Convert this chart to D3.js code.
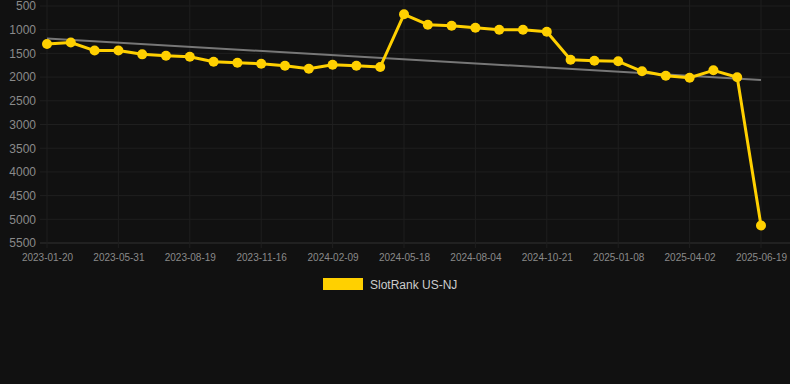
<!DOCTYPE html>
<html>
<head>
<meta charset="utf-8">
<script src="https://cdn.jsdelivr.net/npm/d3@7"></script>
<style>
 body { margin: 0; background: #111111; }
 svg text { font-family: "Liberation Sans", Arial, sans-serif; }
</style>
</head>
<body>
<div id="chart"></div>
<script>
// dates on the x axis (only every third one is labelled)
var dates = ["2023-01-20", "2023-03-05", "2023-04-18", "2023-05-31", "2023-06-27", "2023-07-23",
 "2023-08-19", "2023-09-18", "2023-10-17", "2023-11-16", "2023-12-14", "2024-01-11",
 "2024-02-09", "2024-03-12", "2024-04-14", "2024-05-18", "2024-06-13", "2024-07-09",
 "2024-08-04", "2024-08-30", "2024-09-25", "2024-10-21", "2024-11-16", "2024-12-12",
 "2025-01-08", "2025-02-05", "2025-03-05", "2025-04-02", "2025-04-28", "2025-05-24", "2025-06-19"];
var ranks = [1300, 1270, 1440, 1440, 1520, 1548, 1570, 1675, 1696, 1717, 1759, 1822,
 1738, 1759, 1787, 675, 894, 915, 958, 1000, 1000, 1042, 1633, 1654, 1667, 1878,
 1970, 2013, 1857, 2004, 5130];
var yTicks = [500, 1000, 1500, 2000, 2500, 3000, 3500, 4000, 4500, 5000, 5500];
var seriesName = "SlotRank US-NJ";

var w = 790, h = 384;
var lineCOLOR = "#ffd000", gridCOLOR = "#1f1f1f", textCOLOR = "#8a8a8a";

var mysvg = d3.select("#chart").append("svg").attr("width", w).attr("height", h);

var x = d3.scalePoint().domain(dates).range([47, 761]);
var y = d3.scaleLinear().domain([500, 5500]).range([6, 243]);

// horizontal grid
mysvg.append("g").selectAll("line").data(yTicks).enter().append("line")
 .attr("x1", 40).attr("x2", w)
 .attr("y1", function (d) { return y(d); }).attr("y2", function (d) { return y(d); })
 .attr("stroke", function (d) { return d === 5500 ? "#333" : gridCOLOR; }).attr("stroke-width", 1);

// vertical grid at labelled dates
var labelled = dates.filter(function (d, i) { return i % 3 === 0; });
mysvg.append("g").selectAll("line").data(labelled).enter().append("line")
 .attr("x1", function (d) { return x(d); }).attr("x2", function (d) { return x(d); })
 .attr("y1", 0).attr("y2", 248)
 .attr("stroke", gridCOLOR).attr("stroke-width", 1);

// y axis
var yAxis = d3.axisLeft(y).tickValues(yTicks).tickFormat(d3.format("d")).tickSize(0).tickPadding(0);
var gy = mysvg.append("g").attr("transform", "translate(36,0)").call(yAxis);
gy.select(".domain").remove();
gy.selectAll("text").attr("fill", textCOLOR).attr("font-size", "12px")
 .attr("font-family", "Liberation Sans, Arial, sans-serif");

// x axis
var xAxis = d3.axisBottom(x).tickValues(labelled).tickSize(0).tickPadding(0);
var gx = mysvg.append("g").attr("transform", "translate(0,254)").call(xAxis);
gx.select(".domain").remove();
gx.selectAll("text").attr("fill", textCOLOR).attr("font-size", "10px")
 .attr("font-family", "Liberation Sans, Arial, sans-serif");

// trend line (least squares over the index)
var n = ranks.length, sx = 0, sy = 0, sxy = 0, sxx = 0;
ranks.forEach(function (v, i) { sx += i; sy += v; sxy += i * v; sxx += i * i; });
var slope = (n * sxy - sx * sy) / (n * sxx - sx * sx), icpt = (sy - slope * sx) / n;
mysvg.append("line")
 .attr("x1", x(dates[0])).attr("y1", y(icpt))
 .attr("x2", x(dates[n - 1])).attr("y2", y(icpt + slope * (n - 1)))
 .attr("stroke", "#777").attr("stroke-width", 2);

// series
var line = d3.line().x(function (d, i) { return x(dates[i]); }).y(function (d) { return y(d); });
mysvg.append("path").datum(ranks).attr("d", line)
 .attr("fill", "none").attr("stroke", lineCOLOR).attr("stroke-width", 3).attr("stroke-linejoin", "round");
mysvg.append("g").selectAll("circle").data(ranks).enter().append("circle")
 .attr("cx", function (d, i) { return x(dates[i]); }).attr("cy", function (d) { return y(d); })
 .attr("r", 5).attr("fill", lineCOLOR);

// legend
mysvg.append("rect").attr("x", 323).attr("y", 278).attr("width", 40).attr("height", 12).attr("fill", lineCOLOR);
mysvg.append("text").attr("x", 370).attr("y", 289).attr("fill", "#cccccc").attr("font-size", "12px").text(seriesName);
</script>
</body>
</html>
